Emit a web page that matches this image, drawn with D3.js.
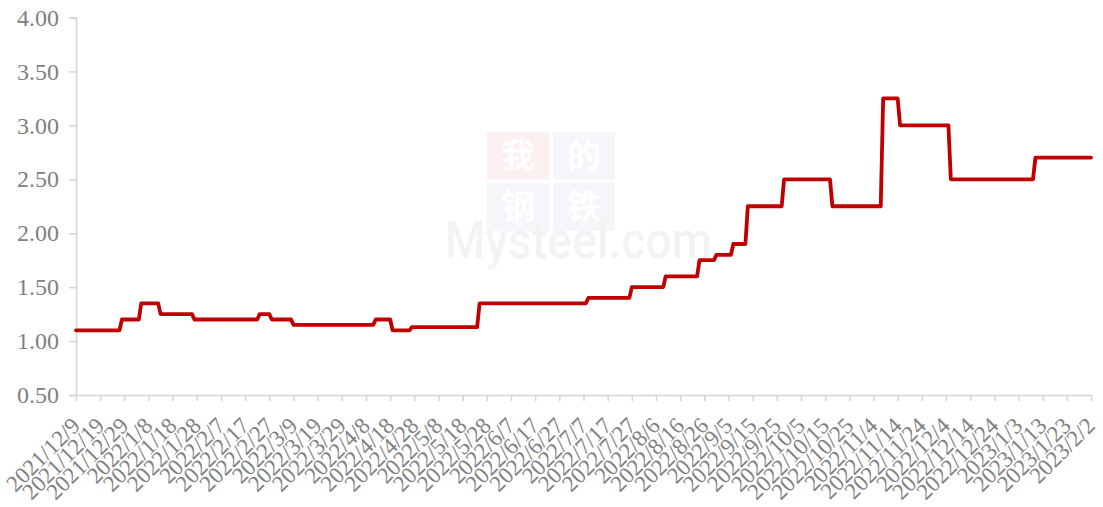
<!DOCTYPE html>
<html>
<head>
<meta charset="utf-8">
<script src="https://cdn.jsdelivr.net/npm/d3@7"></script>
<style>
  body { margin: 0; background: #ffffff; }
  svg { display: block; }
  .eje text { font-family: 'Liberation Serif', 'DejaVu Serif', serif !important; }
</style>
</head>
<body>
<svg id="chart"></svg>
<script>
// each price level: first day, last day, value
const levelStart = ['2021-12-09', '2021-12-28', '2022-01-05', '2022-01-13', '2022-01-27', '2022-02-23',
    '2022-02-28', '2022-03-09', '2022-04-12', '2022-04-19', '2022-04-27', '2022-05-25', '2022-07-09',
    '2022-07-27', '2022-08-10', '2022-08-24', '2022-08-31', '2022-09-07', '2022-09-13', '2022-09-28',
    '2022-10-18', '2022-11-08', '2022-11-15', '2022-12-06', '2023-01-10'];
const levelEnd = ['2021-12-27', '2022-01-04', '2022-01-12', '2022-01-26', '2022-02-22', '2022-02-27',
    '2022-03-08', '2022-04-11', '2022-04-18', '2022-04-26', '2022-05-24', '2022-07-08', '2022-07-26',
    '2022-08-09', '2022-08-23', '2022-08-30', '2022-09-06', '2022-09-12', '2022-09-27', '2022-10-17',
    '2022-11-07', '2022-11-14', '2022-12-05', '2023-01-09', '2023-02-02'];
const levelValue = [1.10, 1.20, 1.35, 1.25, 1.20, 1.25, 1.20, 1.15, 1.20, 1.10, 1.13, 1.35, 1.40,
    1.50, 1.60, 1.75, 1.80, 1.90, 2.25, 2.50, 2.25, 3.25, 3.00, 2.50, 2.70];

const xTickLabels = ['2021/12/9', '2021/12/19', '2021/12/29', '2022/1/8', '2022/1/18', '2022/1/28',
    '2022/2/7', '2022/2/17', '2022/2/27', '2022/3/9', '2022/3/19', '2022/3/29', '2022/4/8', '2022/4/18',
    '2022/4/28', '2022/5/8', '2022/5/18', '2022/5/28', '2022/6/7', '2022/6/17', '2022/6/27', '2022/7/7',
    '2022/7/17', '2022/7/27', '2022/8/6', '2022/8/16', '2022/8/26', '2022/9/5', '2022/9/15', '2022/9/25',
    '2022/10/5', '2022/10/15', '2022/10/25', '2022/11/4', '2022/11/14', '2022/11/24', '2022/12/4',
    '2022/12/14', '2022/12/24', '2023/1/3', '2023/1/13', '2023/1/23', '2023/2/2'];
const yTicks = [0.5, 1.0, 1.5, 2.0, 2.5, 3.0, 3.5, 4.0];

const ancho = 1103;
const alto = 507;
const izq = 76, der = 1091, arriba = 17.5, abajo = 395;
const gris = '#808080';
const lineaEje = '#d4d4d4';
const fuente = 'Liberation Serif';

const svg = d3.select('#chart').attr('width', ancho).attr('height', alto);

const parse = d3.utcParse('%Y-%m-%d');
const parseTick = d3.utcParse('%Y/%m/%d');

const xEscala = d3.scaleUtc()
    .domain([parse(levelStart[0]), parse(levelEnd[levelEnd.length - 1])])
    .range([izq, der]);
const yEscala = d3.scaleLinear().domain([0.5, 4]).range([abajo, arriba]);

// watermark
const marca = svg.append('g').attr('class', 'watermark');
const cajas = [
    {t: '我', x: 487, y: 132, c: '#fdf0f0'},
    {t: '的', x: 553, y: 132, c: '#f4f6fa'},
    {t: '钢', x: 487, y: 183, c: '#f4f6fa'},
    {t: '铁', x: 553, y: 183, c: '#f4f6fa'}
];
cajas.forEach(function (b) {
    marca.append('rect').attr('x', b.x).attr('y', b.y).attr('width', 62).attr('height', 48).attr('fill', b.c);
    marca.append('text').attr('x', b.x + 31).attr('y', b.y + 36)
        .attr('text-anchor', 'middle')
        .style('font-family', '"Noto Sans CJK SC"').style('font-size', '34px').style('font-weight', 'bold')
        .attr('fill', '#ffffff').text(b.t);
});
marca.append('text').attr('x', 445).attr('y', 258)
    .attr('textLength', 267).attr('lengthAdjust', 'spacingAndGlyphs')
    .style('font-family', 'Roboto, "DejaVu Sans", sans-serif').style('font-size', '52px').style('font-weight', '500')
    .attr('fill', '#f3f3f3').text('Mysteel.com');

// y axis
const yEje = d3.axisLeft(yEscala)
    .tickValues(yTicks)
    .tickSize(7)
    .tickPadding(10)
    .tickFormat(d3.format('.2f'));

const gy = svg.append('g')
    .attr('class', 'eje')
    .attr('transform', 'translate(' + izq + ',0)')
    .call(yEje)
    .attr('font-family', fuente)
    .attr('font-size', 24);
gy.select('.domain').attr('stroke', lineaEje).attr('stroke-width', 1.5);
gy.selectAll('.tick line').attr('stroke', lineaEje).attr('stroke-width', 1.5);
gy.selectAll('.tick text')
    .attr('fill', gris)
    .attr('font-family', fuente)
    .style('font-size', '24px');

// x axis
const xEje = d3.axisBottom(xEscala)
    .tickValues(xTickLabels.map(function (s) { return parseTick(s); }))
    .tickSize(6)
    .tickSizeOuter(0)
    .tickFormat(function (d, i) { return xTickLabels[i]; });

const gx = svg.append('g')
    .attr('class', 'eje')
    .attr('transform', 'translate(0,' + abajo + ')')
    .call(xEje)
    .attr('font-family', fuente)
    .attr('font-size', 23);
gx.select('.domain').attr('stroke', lineaEje).attr('stroke-width', 1.5);
gx.selectAll('.tick line').attr('stroke', lineaEje).attr('stroke-width', 1.5);
gx.selectAll('.tick text')
    .attr('fill', gris)
    .attr('x', 0).attr('y', 0).attr('dy', 0)
    .attr('transform', 'translate(5,32) rotate(-45)')
    .style('text-anchor', 'end')
    .attr('font-family', fuente)
    .style('font-size', '23px');

// step line: each level drawn from its first to its last day
let puntos = [];
for (let i = 0; i < levelValue.length; i++) {
    puntos.push({d: parse(levelStart[i]), v: levelValue[i]});
    puntos.push({d: parse(levelEnd[i]), v: levelValue[i]});
}

const linea = d3.line()
    .x(function (p) { return xEscala(p.d); })
    .y(function (p) { return yEscala(p.v); });

svg.append('path')
    .attr('d', linea(puntos))
    .attr('fill', 'none')
    .attr('stroke', '#c00000')
    .attr('stroke-width', 3.8)
    .attr('stroke-linejoin', 'round')
    .attr('stroke-linecap', 'round');
</script>
</body>
</html>
